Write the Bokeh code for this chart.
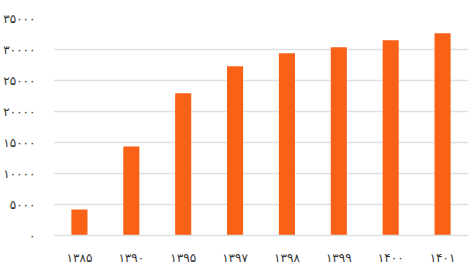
from bokeh.plotting import figure
from bokeh.models import FixedTicker, ColumnDataSource
from bokeh.embed import file_html
from bokeh.resources import INLINE

years = ["۱۳۸۵", "۱۳۹۰", "۱۳۹۵", "۱۳۹۷", "۱۳۹۸", "۱۳۹۹", "۱۴۰۰", "۱۴۰۱"]
values = [4200, 14350, 22950, 27300, 29400, 30370, 31500, 32630]
y_ticks = [0, 5000, 10000, 15000, 20000, 25000, 30000, 35000]
y_tick_labels = ["۰", "۵۰۰۰", "۱۰۰۰۰", "۱۵۰۰۰", "۲۰۰۰۰", "۲۵۰۰۰", "۳۰۰۰۰", "۳۵۰۰۰"]

src = ColumnDataSource(dict(x=years, top=values))

p = figure(width=471, height=268, x_range=years, y_range=(0, 35000),
           output_backend="svg", toolbar_location=None,
           min_border_left=52, min_border_right=3, min_border_top=18, min_border_bottom=33)
p.outline_line_color = None
p.vbar(x="x", top="top", width=0.31, source=src, color="#F96116", line_color=None)

p.yaxis.ticker = FixedTicker(ticks=y_ticks)
p.yaxis.major_label_overrides = {t: l for t, l in zip(y_ticks, y_tick_labels)}
p.yaxis.axis_line_color = None
p.yaxis.major_tick_line_color = None
p.yaxis.minor_tick_line_color = None
p.yaxis.major_label_standoff = 12
p.xaxis.axis_line_color = "#dde1e1"
p.xaxis.axis_line_width = 1.5
p.xaxis.major_tick_line_color = None
p.xaxis.minor_tick_line_color = None
p.xaxis.major_label_standoff = 9
for ax in (p.xaxis, p.yaxis):
    ax.major_label_text_font = "DejaVu Sans"
    ax.major_label_text_font_size = "12px"
    ax.major_label_text_color = "#333333"
p.xgrid.grid_line_color = None
p.ygrid.grid_line_color = "#dde1e1"
p.ygrid.grid_line_width = 1.5
p.x_range.range_padding = 0.0

open("out.html", "w").write(file_html(p, INLINE))
